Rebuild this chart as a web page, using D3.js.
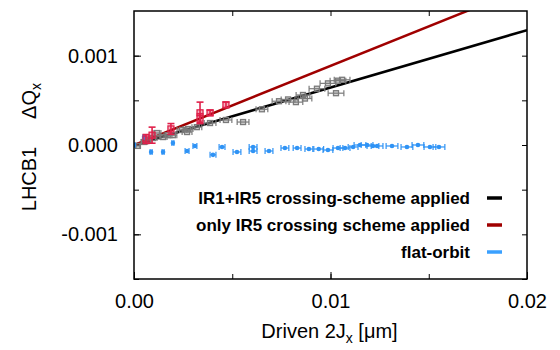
<!DOCTYPE html>
<html>
<head>
<meta charset="utf-8">
<script src="https://cdn.jsdelivr.net/npm/d3@7"></script>
<style>
  body { margin: 0; background: #fff; }
  text { font-family: "Liberation Sans", Arial, sans-serif; }
</style>
</head>
<body>
<div id="chart"></div>
<script>
// chart data
var legendLabels = ['IR1+IR5 crossing-scheme applied', 'only IR5 crossing scheme applied', 'flat-orbit'];
var xTicks = [0, 0.01, 0.02];
var yTicks = [-0.001, 0, 0.001];

// fitted slopes (dQ / d2J)
var slopeBoth = 0.0643;
var slopeIR5 = 0.0885;

// IR1+IR5 crossing scheme (gray)
var grayX = [0.0002, 0.00051, 0.00071, 0.00097, 0.00117, 0.00148, 0.00173, 0.00198, 0.00244, 0.0027, 0.00275, 0.0032, 0.00387, 0.00468, 0.00555, 0.00651, 0.00738, 0.00784, 0.00824, 0.0086, 0.0087, 0.00931, 0.00987, 0.01038, 0.01028, 0.01059];
var grayY = [-0.00001, 0.000034, 0.000056, 0.000078, 0.000134, 0.000089, 0.00011, 0.00011, 0.000168, 0.000145, 0.000179, 0.0002, 0.000246, 0.00028, 0.000257, 0.0004, 0.00049, 0.00051, 0.00048, 0.00056, 0.00052, 0.00063, 0.00069, 0.00072, 0.00058, 0.00073];
var grayXErr = [0.0001, 0.00015, 0.00015, 0.0002, 0.0002, 0.0002, 0.0002, 0.0002, 0.00025, 0.00025, 0.00025, 0.00025, 0.0003, 0.0003, 0.0003, 0.0003, 0.00035, 0.00035, 0.00035, 0.00035, 0.00035, 0.0004, 0.0004, 0.0004, 0.0004, 0.0004];

// only IR5 crossing scheme (red)
var redX = [0.00061, 0.00092, 0.00188, 0.00336, 0.00336, 0.00387, 0.00468];
var redY = [0.000067, 0.00011, 0.00018, 0.00036, 0.0003, 0.00036, 0.00045];
var redYErr = [0.00005, 0.00009, 0.00006, 0.00012, 0.00005, 0.00003, 0.00003];

// flat orbit (blue)
var blueX = [0, 0.00051, 0.00087, 0.00148, 0.00198, 0.0027, 0.0031, 0.00402, 0.00448, 0.00524, 0.00606, 0.00606, 0.00687, 0.00768, 0.0083, 0.0089, 0.0094, 0.00987, 0.01038, 0.01074, 0.01115, 0.0115, 0.01186, 0.01216, 0.01237, 0.01313, 0.01389, 0.01445, 0.01506, 0.01552];
var blueY = [0, 0.00009, -0.000078, -0.000078, 0.000022, -0.000067, -0.000011, -0.00011, -0.000022, -0.000078, -0.000022, -0.000067, -0.000067, -0.000034, -0.000034, -0.000045, -0.000045, -0.000056, -0.000034, -0.000034, -0.000022, 0, 0, -0.000011, -0.000011, -0.000011, -0.000022, 0, -0.000022, -0.000022];
var blueXErr = [0.00005, 0.00005, 0.00005, 0.00005, 0.00005, 0.0001, 0.0001, 0.00015, 0.00015, 0.0002, 0.0002, 0.0002, 0.0002, 0.0002, 0.0002, 0.0002, 0.00025, 0.00025, 0.00025, 0.00025, 0.00025, 0.0003, 0.0003, 0.0003, 0.0003, 0.0003, 0.0003, 0.0003, 0.0003, 0.0003];

var svgWidth = 560;
var svgHeight = 350;
var margins = { top: 11, right: 33, bottom: 71, left: 134 };
var chartWidth = svgWidth - margins.left - margins.right;
var chartHeight = svgHeight - margins.top - margins.bottom;

var colors = { gray: '#7a7a7a', red: '#e0204a', blue: '#2f93f5', black: '#000000', darkred: '#a00000', legendBlue: '#3aa0ff' };

var svg = d3.select('#chart')
    .append('svg')
    .attr('width', svgWidth)
    .attr('height', svgHeight);

var chartGroup = svg.append('g')
    .attr('transform', `translate(${margins.left}, ${margins.top})`);

var x = d3.scaleLinear().domain([0, 0.02]).range([0, chartWidth]);
var y = d3.scaleLinear().domain([-0.0015, 0.0015]).range([chartHeight, 0]);

var fmtX = d3.format('.2f');
var fmtY = function(d) { return d3.format('.3f')(d).replace('−', '-'); };

// clip for lines and points
chartGroup.append('clipPath').attr('id', 'clip')
    .append('rect').attr('width', chartWidth).attr('height', chartHeight);

// minor ticks (all four sides, inward)
var xMinor = [0.005, 0.01, 0.015];
var yMinor = [-0.0015, -0.001, -0.0005, 0, 0.0005, 0.001];
function tickStyle(g) {
    g.select('.domain').remove();
    g.selectAll('line').attr('stroke', '#000').attr('stroke-width', 1);
}
chartGroup.append('g').attr('transform', `translate(0, ${chartHeight})`)
    .call(d3.axisBottom(x).tickValues(xMinor).tickSize(-5).tickFormat('')).call(tickStyle);
chartGroup.append('g')
    .call(d3.axisTop(x).tickValues(xMinor).tickSize(-5).tickFormat('')).call(tickStyle);
chartGroup.append('g')
    .call(d3.axisLeft(y).tickValues(yMinor).tickSize(-5).tickFormat('')).call(tickStyle);
chartGroup.append('g').attr('transform', `translate(${chartWidth}, 0)`)
    .call(d3.axisRight(y).tickValues(yMinor).tickSize(-5).tickFormat('')).call(tickStyle);

// labelled axes
var xAxis = chartGroup.append('g').attr('transform', `translate(0, ${chartHeight})`)
    .call(d3.axisBottom(x).tickValues(xTicks).tickSize(-7).tickPadding(15).tickFormat(fmtX));
xAxis.select('.domain').remove();
xAxis.selectAll('text').attr('font-size', 20).attr('fill', '#000')
    .style('font-family', '"Liberation Sans", Arial, sans-serif');

var yAxis = chartGroup.append('g')
    .call(d3.axisLeft(y).tickValues(yTicks).tickSize(-7).tickPadding(16).tickFormat(fmtY));
yAxis.select('.domain').remove();
yAxis.selectAll('text').attr('font-size', 20).attr('fill', '#000')
    .style('font-family', '"Liberation Sans", Arial, sans-serif');

// fit lines
var lineGroup = chartGroup.append('g').attr('clip-path', 'url(#clip)');
[[slopeBoth, colors.black], [slopeIR5, colors.darkred]].forEach(function(s) {
    lineGroup.append('line')
        .attr('x1', x(0)).attr('y1', y(0))
        .attr('x2', x(0.02)).attr('y2', y(0.02 * s[0]))
        .attr('stroke', s[1]).attr('stroke-width', 2.5);
});

// helper for points with error bars
function drawPoints(xs, ys, xerr, yerr, color, marker) {
    var data = xs.map(function(v, i) {
        return { x: v, y: ys[i], xe: xerr ? xerr[i] : 0, ye: yerr ? yerr[i] : 0 };
    });
    var g = lineGroup.append('g').attr('stroke', color);
    data.forEach(function(d) {
        var cx = x(d.x), cy = y(d.y);
        if (d.xe) {
            var xa = x(d.x - d.xe), xb = x(d.x + d.xe);
            g.append('line').attr('x1', xa).attr('x2', xb).attr('y1', cy).attr('y2', cy).attr('stroke-width', 1.2);
            g.append('line').attr('x1', xa).attr('x2', xa).attr('y1', cy - 3).attr('y2', cy + 3).attr('stroke-width', 1.2);
            g.append('line').attr('x1', xb).attr('x2', xb).attr('y1', cy - 3).attr('y2', cy + 3).attr('stroke-width', 1.2);
        }
        if (d.ye) {
            var ya = y(d.y - d.ye), yb = y(d.y + d.ye);
            g.append('line').attr('x1', cx).attr('x2', cx).attr('y1', ya).attr('y2', yb).attr('stroke-width', 1.6);
            g.append('line').attr('x1', cx - 3.5).attr('x2', cx + 3.5).attr('y1', ya).attr('y2', ya).attr('stroke-width', 1.6);
            g.append('line').attr('x1', cx - 3.5).attr('x2', cx + 3.5).attr('y1', yb).attr('y2', yb).attr('stroke-width', 1.6);
        }
        if (marker === 'dot') {
            g.append('circle').attr('cx', cx).attr('cy', cy).attr('r', 2.3)
                .attr('fill', color).attr('stroke', 'none');
        } else {
            var s = marker === 'big' ? 6 : 5;
            g.append('rect').attr('x', cx - s / 2).attr('y', cy - s / 2).attr('width', s).attr('height', s)
                .attr('fill', color).attr('fill-opacity', 0.35).attr('stroke-width', 1.3);
        }
    });
}

drawPoints(grayX, grayY, grayXErr, null, colors.gray, 'box');
drawPoints(blueX, blueY, blueXErr, null, colors.blue, 'dot');
drawPoints(redX, redY, null, redYErr, colors.red, 'big');

// frame
chartGroup.append('rect')
    .attr('width', chartWidth).attr('height', chartHeight)
    .attr('fill', 'none').attr('stroke', '#000').attr('stroke-width', 1.5);

// legend
var legendColors = [colors.black, colors.darkred, colors.legendBlue];
var legend = chartGroup.append('g').attr('transform', `translate(${chartWidth - 57}, ${chartHeight - 81})`);
legendLabels.forEach(function(label, i) {
    var row = legend.append('g').attr('transform', `translate(0, ${i * 27})`);
    row.append('text')
        .attr('x', 0).attr('y', 6)
        .attr('text-anchor', 'end')
        .attr('font-size', 17).attr('font-weight', 'bold')
        .text(label);
    row.append('line')
        .attr('x1', 17).attr('x2', 32).attr('y1', 0).attr('y2', 0)
        .attr('stroke', legendColors[i]).attr('stroke-width', 3.5);
});

// axis titles
var xTitle = svg.append('text')
    .attr('x', margins.left + chartWidth / 2 - 1)
    .attr('y', 338)
    .attr('text-anchor', 'middle')
    .attr('font-size', 20);
xTitle.append('tspan').text('Driven 2J');
xTitle.append('tspan').attr('font-size', 14).attr('dy', 5).text('x');
xTitle.append('tspan').attr('dy', -5).text(' [μm]');

svg.append('text')
    .attr('transform', 'translate(36, 179) rotate(-90)')
    .attr('text-anchor', 'middle')
    .attr('font-size', 20)
    .text('LHCB1');

var dqTitle = svg.append('text')
    .attr('transform', 'translate(36, 101) rotate(-90)')
    .attr('text-anchor', 'middle')
    .attr('font-size', 20);
dqTitle.append('tspan').text('ΔQ');
dqTitle.append('tspan').attr('font-size', 14).attr('dy', 5).text('x');
</script>
</body>
</html>
